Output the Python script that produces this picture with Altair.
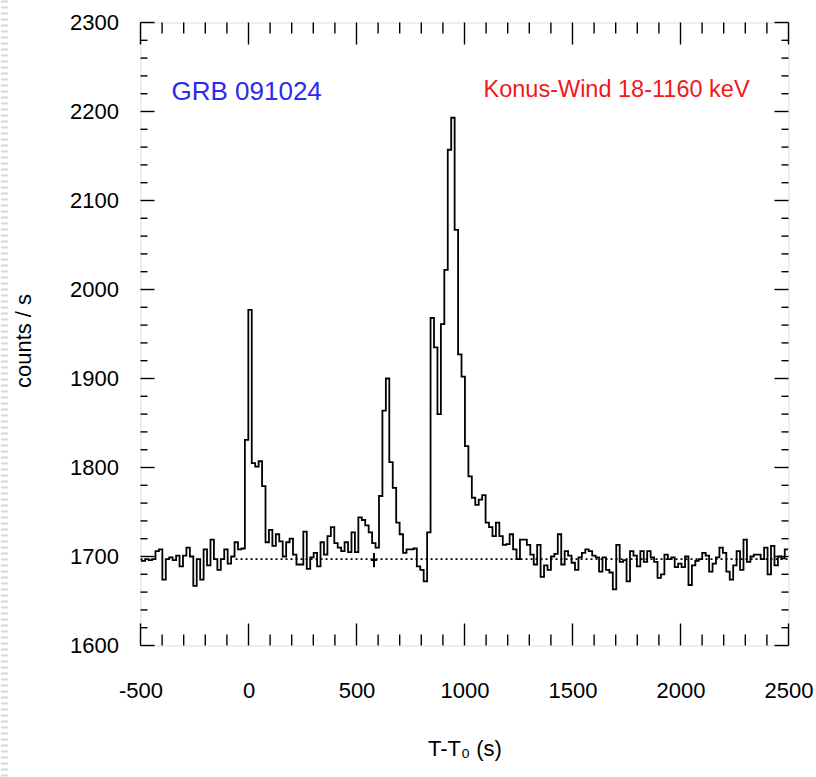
import altair as alt
import pandas as pd

# ---- data ----
BIN_START = -510.3          # start of first time bin (s)
BIN_WIDTH = 15.92           # bin width (s)
counts = [
    1697, 1695, 1697, 1696, 1697, 1706, 1708, 1674, 1697, 1699,
    1696, 1701, 1689, 1701, 1710, 1700, 1667, 1697, 1674, 1708,
    1690, 1719, 1697, 1685, 1697, 1708, 1692, 1700, 1716, 1708,
    1709, 1831, 1977, 1805, 1801, 1807, 1779, 1716, 1730, 1712,
    1725, 1717, 1700, 1716, 1720, 1702, 1691, 1691, 1728, 1686,
    1699, 1704, 1689, 1716, 1702, 1723, 1733, 1715, 1710, 1706,
    1716, 1705, 1727, 1705, 1744, 1741, 1735, 1727, 1715, 1710,
    1768, 1864, 1900, 1806, 1777, 1738, 1725, 1704, 1708, 1708,
    1709, 1689, 1685, 1672, 1727, 1968, 1935, 1860, 1961, 2022,
    2157, 2193, 2067, 1927, 1902, 1824, 1790, 1766, 1758, 1764,
    1769, 1738, 1733, 1723, 1738, 1723, 1713, 1714, 1725, 1708,
    1697, 1719, 1719, 1713, 1702, 1691, 1713, 1677, 1690, 1685,
    1700, 1703, 1725, 1691, 1706, 1701, 1693, 1685, 1699, 1704,
    1708, 1706, 1701, 1699, 1683, 1699, 1685, 1682, 1663, 1713,
    1694, 1696, 1672, 1706, 1701, 1689, 1706, 1694, 1706, 1699,
    1694, 1676, 1680, 1702, 1697, 1699, 1688, 1692, 1688, 1700,
    1668, 1690, 1695, 1697, 1704, 1701, 1683, 1692, 1699, 1710,
    1704, 1683, 1674, 1690, 1706, 1685, 1719, 1694, 1700, 1702,
    1702, 1697, 1710, 1680, 1712, 1690, 1700, 1698, 1708,
]
baseline_level = 1697
baseline_from = -60
baseline_to = 2500
marker_t = [581]
marker_c = [1696]

x_major = [-500, 0, 500, 1000, 1500, 2000, 2500]
x_minor = [-400, -300, -200, -100, 100, 200, 300, 400, 600, 700, 800, 900,
           1100, 1200, 1300, 1400, 1600, 1700, 1800, 1900, 2100, 2200, 2300, 2400]
y_major = [1600, 1700, 1800, 1900, 2000, 2100, 2200, 2300]
y_minor = [v for v in range(1620, 2300, 20) if v % 100 != 0]

title_left = "GRB 091024"
title_right = "Konus-Wind 18-1160 keV"

# ---- layout ----
W, H = 648, 623
FONT = "Liberation Sans"

starts = [BIN_START + BIN_WIDTH * i for i in range(len(counts))]
df = pd.DataFrame({"t": starts + [starts[-1] + BIN_WIDTH],
                   "c": counts + [counts[-1]]})

xs = alt.Scale(domain=[-500, 2500], nice=False, zero=False)
ys = alt.Scale(domain=[1600, 2300], nice=False, zero=False)

X_AXIS = alt.Axis(
    values=x_major, ticks=False, domain=False, grid=False,
    labelFontSize=22, labelFont=FONT, labelColor="black", labelPadding=35,
    labelExpr="'' + datum.value", labelFlush=False, labelOverlap=False,
    title="T-T₀ (s)", titleFont=FONT, titleFontSize=22, titleFontWeight="normal",
    titleColor="black", titleBaseline="alphabetic", titleY=110)
Y_AXIS = alt.Axis(
    values=y_major, ticks=False, domain=False, grid=False,
    labelFontSize=22, labelFont=FONT, labelColor="black", labelPadding=22,
    labelExpr="'' + datum.value", labelFlush=False, labelOverlap=False,
    title="counts / s", titleFont=FONT, titleFontSize=22,
    titleFontWeight="normal", titleColor="black",
    titleBaseline="alphabetic", titleX=-110, titleY=318)


def X(field):
    return alt.X(field, scale=xs, axis=X_AXIS)


def Y(field):
    return alt.Y(field, scale=ys, axis=Y_AXIS)


line = alt.Chart(df).mark_line(
    interpolate="step-after", color="black", strokeWidth=1.8, clip=True
).encode(x=X("t:Q"), y=Y("c:Q"))

base_df = pd.DataFrame({"t": [baseline_from], "t2": [baseline_to], "c": [baseline_level]})
baseline = alt.Chart(base_df).mark_rule(
    color="black", strokeWidth=1.6, strokeDash=[2, 3]
).encode(x=X("t:Q"), x2="t2:Q", y=Y("c:Q"))

marker = alt.Chart(pd.DataFrame({"t": marker_t, "c": marker_c})).mark_point(
    shape="M-0.45,0H0.45M0,-1V1", size=200, filled=False,
    color="black", strokeWidth=2, opacity=1
).encode(x=X("t:Q"), y=Y("c:Q"))


def xticks(vals, length, top):
    d = pd.DataFrame({"t": vals})
    y0 = 0 if top else H
    y1 = length if top else H - length
    return alt.Chart(d).mark_rule(color="black", strokeWidth=1.4).encode(
        x=X("t:Q"), y=alt.value(y0), y2=alt.value(y1))


def yticks(vals, length, right):
    d = pd.DataFrame({"c": vals})
    x0 = W if right else 0
    x1 = W - length if right else length
    return alt.Chart(d).mark_rule(color="black", strokeWidth=1.4).encode(
        y=Y("c:Q"), x=alt.value(x0), x2=alt.value(x1))


ticks = [
    xticks(x_major, 22, False), xticks(x_minor, 11, False),
    xticks(x_major, 22, True), xticks(x_minor, 11, True),
    yticks(y_major, 14, False), yticks(y_minor, 7, False),
    yticks(y_major, 14, True), yticks(y_minor, 7, True),
]

txt_left = alt.Chart(pd.DataFrame({"s": [title_left]})).mark_text(
    align="left", baseline="alphabetic", font=FONT, fontSize=26, color="#2b2bf0"
).encode(x=alt.value(31), y=alt.value(77), text="s:N")

txt_right = alt.Chart(pd.DataFrame({"s": [title_right]})).mark_text(
    align="left", baseline="alphabetic", font=FONT, fontSize=23.5, color="#f01818"
).encode(x=alt.value(343), y=alt.value(74), text="s:N")

edge = alt.Chart(pd.DataFrame({"k": [0]})).mark_rule(
    color="#d8d8d8", strokeWidth=7, strokeDash=[2, 4]
).encode(x=alt.value(-136), y=alt.value(-22), y2=alt.value(760))

chart = alt.layer(line, baseline, marker, *ticks, txt_left, txt_right, edge).properties(
    width=W, height=H,
    autosize=alt.AutoSizeParams(type="none"),
    padding={"left": 140.5, "top": 22.5, "right": 27.5, "bottom": 131.5},
).configure_view(
    stroke="black", strokeWidth=1.6
).configure(background="white")

chart.save("out.html", embed_options={"renderer": "svg", "actions": False})
